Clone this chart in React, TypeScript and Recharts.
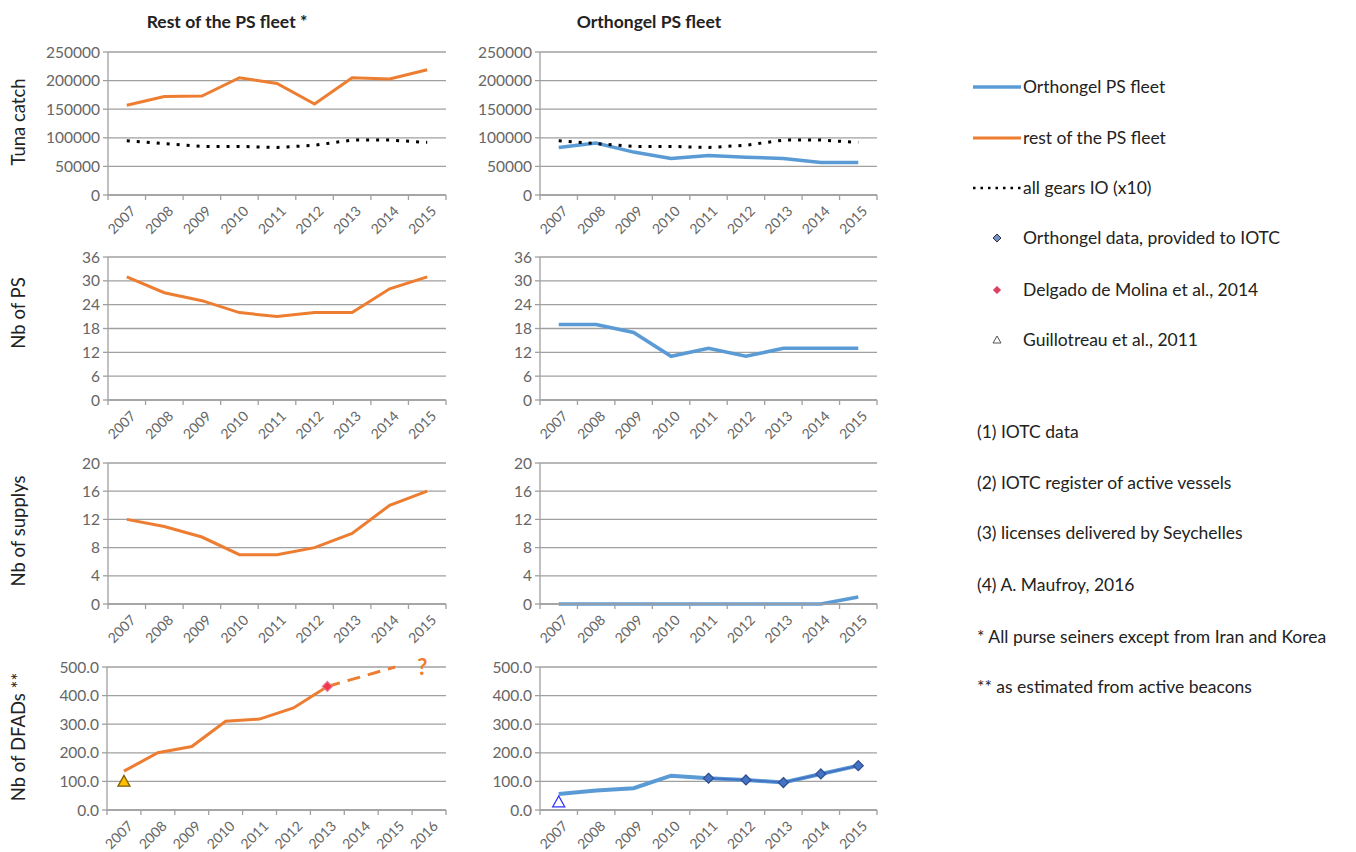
import React from 'react';
import { LineChart, Line, XAxis, YAxis, CartesianGrid, ReferenceDot } from 'recharts';

// ---------- data ----------
const years = [2007, 2008, 2009, 2010, 2011, 2012, 2013, 2014, 2015];
const yearsDfad = [2007, 2008, 2009, 2010, 2011, 2012, 2013, 2014, 2015, 2016];

const restCatch = [157000, 172000, 173000, 205000, 195000, 159000, 205000, 203000, 219000];
const allGears = [95000, 90000, 85000, 85000, 83000, 87000, 96000, 96000, 92000];
const orthCatch = [83000, 91000, 75000, 64000, 69000, 66000, 64000, 57000, 57000];

const restPS = [31, 27, 25, 22, 21, 22, 22, 28, 31];
const orthPS = [19, 19, 17, 11, 13, 11, 13, 13, 13];

const restSupply = [12, 11, 9.5, 7, 7, 8, 10, 14, 16];
const orthSupply = [0, 0, 0, 0, 0, 0, 0, 0, 1];

const restDfad = [136, 200, 222, 310, 318, 357, 432, null, null, null];
const restDfadProjection = [null, null, null, null, null, null, 432, null, 500, null];
const delgadoDfad = [null, null, null, null, null, null, 432, null, null, null];
const guillotreauRest = [100, null, null, null, null, null, null, null, null, null];

const orthDfad = [56, 68, 76, 120, 111, 105, 96, 126, 155];
const orthDataIotc = [null, null, null, null, 111, 105, 96, 126, 155];
const guillotreauOrth = [28, null, null, null, null, null, null, null, null];

const catchTicks = [0, 50000, 100000, 150000, 200000, 250000];
const psTicks = [0, 6, 12, 18, 24, 30, 36];
const supplyTicks = [0, 4, 8, 12, 16, 20];
const dfadTicks = [0, 100, 200, 300, 400, 500];

const legendItems = [
  'Orthongel PS fleet',
  'rest of the PS fleet',
  'all gears IO (x10)',
  'Orthongel data, provided to IOTC',
  'Delgado de Molina et al., 2014',
  'Guillotreau et al., 2011',
];
const notes = [
  '(1) IOTC data',
  '(2) IOTC register of active vessels',
  '(3) licenses delivered by Seychelles',
  '(4) A. Maufroy, 2016',
  '* All purse seiners except from Iran and Korea',
  '** as estimated from active beacons',
];

// ---------- tables ----------
const catchData = years.map((year, i) => ({ year, rest: restCatch[i], all: allGears[i], orth: orthCatch[i] }));
const psData = years.map((year, i) => ({ year, rest: restPS[i], orth: orthPS[i] }));
const supplyData = years.map((year, i) => ({ year, rest: restSupply[i], orth: orthSupply[i] }));
const dfadRestData = yearsDfad.map((year, i) => ({
  year,
  rest: restDfad[i],
  proj: restDfadProjection[i],
  delgado: delgadoDfad[i],
  guill: guillotreauRest[i],
}));
const dfadOrthData = years.map((year, i) => ({
  year,
  orth: orthDfad[i],
  iotc: orthDataIotc[i],
  guill: guillotreauOrth[i],
}));

// ---------- styles ----------
const FONT = 'Lato, "Liberation Sans", sans-serif';
const AXIS = '#A0A0A0';
const TICK_TEXT = '#666666';
const ORANGE = '#ED7D31';
const BLUE = '#5B9BD5';
const DARKBLUE = '#4472C4';

const makeXTick = (step: number) => (props: any) => {
  const { x, y, payload, index } = props;
  const ax = x + 10;
  const ay = y + 17;
  return (
    <g>
      <line x1={x + step / 2} x2={x + step / 2} y1={y} y2={y + 5} stroke={AXIS} strokeWidth={1.3} />
      {index === 0 ? (
        <line x1={x - step / 2} x2={x - step / 2} y1={y} y2={y + 5} stroke={AXIS} strokeWidth={1.3} />
      ) : null}
      <text
        x={ax}
        y={ay}
        transform={`rotate(-45 ${ax} ${ay})`}
        textAnchor="end"
        fontSize={14}
        fill={TICK_TEXT}
      >
        {payload.value}
      </text>
    </g>
  );
};

const diamond = (fill: string, stroke: string, s: number) => (props: any) => {
  const { cx, cy, index, value } = props;
  if (cx == null || cy == null || value == null) return <g key={`d${index}`} />;
  return (
    <path
      key={`d${index}`}
      d={`M${cx},${cy - s} L${cx + s},${cy} L${cx},${cy + s} L${cx - s},${cy} Z`}
      fill={fill}
      stroke={stroke}
      strokeWidth={1.2}
    />
  );
};

const triangle = (fill: string, stroke: string, s: number) => (props: any) => {
  const { cx, cy, index, value } = props;
  if (cx == null || cy == null || value == null) return <g key={`t${index}`} />;
  return (
    <path
      key={`t${index}`}
      d={`M${cx},${cy - s} L${cx + s},${cy + s * 0.8} L${cx - s},${cy + s * 0.8} Z`}
      fill={fill}
      stroke={stroke}
      strokeWidth={1.3}
    />
  );
};

type PanelProps = {
  left: number;
  plotLeft: number;
  plotRight: number;
  plotTop: number;
  plotBottom: number;
  data: any[];
  xTicks: number[];
  yTicks: number[];
  yFmt?: (v: number) => string;
  children: React.ReactNode;
};

function Panel({ left, plotLeft, plotRight, plotTop, plotBottom, data, xTicks, yTicks, yFmt, children }: PanelProps) {
  const yW = plotLeft - left;
  const width = plotRight - left + 14;
  const height = plotBottom - plotTop + 20 + 45;
  const step = (plotRight - plotLeft) / xTicks.length;
  return (
    <div style={{ position: 'absolute', left, top: plotTop - 20 }}>
      <LineChart width={width} height={height} data={data} margin={{ top: 20, right: 14, left: 0, bottom: 0 }}>
        <CartesianGrid vertical={false} stroke={AXIS} strokeWidth={1.3} />
        <XAxis
          dataKey="year"
          type="number"
          domain={[xTicks[0] - 0.5, xTicks[xTicks.length - 1] + 0.5]}
          ticks={xTicks}
          interval={0}
          height={45}
          tickSize={0}
          tickMargin={0}
          tickLine={false}
          axisLine={{ stroke: AXIS, strokeWidth: 1.3 }}
          tick={makeXTick(step)}
        />
        <YAxis
          width={yW}
          domain={[0, yTicks[yTicks.length - 1]]}
          ticks={yTicks}
          interval={0}
          tickSize={5}
          tickMargin={3}
          axisLine={{ stroke: AXIS, strokeWidth: 1.3 }}
          tickLine={{ stroke: AXIS, strokeWidth: 1.3 }}
          tick={{ fill: TICK_TEXT, fontSize: 15.5 }}
          tickFormatter={yFmt}
        />
        {children}
      </LineChart>
    </div>
  );
}

function SideLabel({ text, x, y }: { text: string; x: number; y: number }) {
  return (
    <div
      style={{
        position: 'absolute',
        left: x,
        top: y,
        transform: 'translate(-50%, -50%) rotate(-90deg)',
        whiteSpace: 'nowrap',
        fontSize: 18.5,
        color: '#222',
      }}
    >
      {text}
    </div>
  );
}

function Title({ text, x, y }: { text: string; x: number; y: number }) {
  return (
    <div
      style={{
        position: 'absolute',
        left: x,
        top: y,
        transform: 'translate(-50%, -50%)',
        whiteSpace: 'nowrap',
        fontSize: 17.5,
        fontWeight: 'bold',
        color: '#222',
      }}
    >
      {text}
    </div>
  );
}

const dfadFmt = (v: number) => v.toFixed(1);

export default function App() {
  const L = { left: 38, plotLeft: 108, plotRight: 446 };
  const R = { left: 470, plotLeft: 540, plotRight: 877 };
  const rows = [
    { plotTop: 52, plotBottom: 195 },
    { plotTop: 257, plotBottom: 400 },
    { plotTop: 463, plotBottom: 604 },
    { plotTop: 667, plotBottom: 810 },
  ];
  const legendY = [87, 138, 188, 238, 290, 340];
  const noteY = [432, 483, 533, 585, 637, 687];

  return (
    <div
      style={{
        position: 'absolute',
        left: 0,
        top: 0,
        width: 1356,
        height: 852,
        background: '#fff',
        fontFamily: FONT,
        overflow: 'hidden',
      }}
    >
      <Title text="Rest of the PS fleet *" x={227} y={21} />
      <Title text="Orthongel PS fleet" x={649} y={21} />

      <SideLabel text="Tuna catch" x={18} y={122} />
      <SideLabel text="Nb of PS" x={18} y={313} />
      <SideLabel text="Nb of supplys" x={18} y={531} />
      <SideLabel text="Nb of DFADs **" x={18} y={737} />

      {/* Row 1: tuna catch */}
      <Panel {...L} {...rows[0]} data={catchData} xTicks={years} yTicks={catchTicks}>
        <Line dataKey="all" stroke="#000" strokeWidth={3} strokeDasharray="3 7" dot={false} isAnimationActive={false} />
        <Line dataKey="rest" stroke={ORANGE} strokeWidth={3} dot={false} isAnimationActive={false} />
      </Panel>
      <Panel {...R} {...rows[0]} data={catchData} xTicks={years} yTicks={catchTicks}>
        <Line dataKey="orth" stroke={BLUE} strokeWidth={3.5} dot={false} isAnimationActive={false} />
        <Line dataKey="all" stroke="#000" strokeWidth={3} strokeDasharray="3 7" dot={false} isAnimationActive={false} />
      </Panel>

      {/* Row 2: Nb of PS */}
      <Panel {...L} {...rows[1]} data={psData} xTicks={years} yTicks={psTicks}>
        <Line dataKey="rest" stroke={ORANGE} strokeWidth={3} dot={false} isAnimationActive={false} />
      </Panel>
      <Panel {...R} {...rows[1]} data={psData} xTicks={years} yTicks={psTicks}>
        <Line dataKey="orth" stroke={BLUE} strokeWidth={3.5} dot={false} isAnimationActive={false} />
      </Panel>

      {/* Row 3: supplys */}
      <Panel {...L} {...rows[2]} data={supplyData} xTicks={years} yTicks={supplyTicks}>
        <Line dataKey="rest" stroke={ORANGE} strokeWidth={3} dot={false} isAnimationActive={false} />
      </Panel>
      <Panel {...R} {...rows[2]} data={supplyData} xTicks={years} yTicks={supplyTicks}>
        <Line dataKey="orth" stroke={BLUE} strokeWidth={3.5} dot={false} isAnimationActive={false} />
      </Panel>

      {/* Row 4: DFADs */}
      <Panel {...L} plotLeft={107} {...rows[3]} data={dfadRestData} xTicks={yearsDfad} yTicks={dfadTicks} yFmt={dfadFmt}>
        <Line dataKey="rest" stroke={ORANGE} strokeWidth={3} dot={false} isAnimationActive={false} />
        <Line
          dataKey="proj"
          stroke={ORANGE}
          strokeWidth={3}
          strokeDasharray="13 8"
          connectNulls
          dot={false}
          isAnimationActive={false}
        />
        <Line
          dataKey="delgado"
          stroke="none"
          dot={diamond('#F0384A', '#E87A9A', 5)}
          isAnimationActive={false}
        />
        <Line
          dataKey="guill"
          stroke="none"
          dot={triangle('#FFC000', '#7F6000', 6)}
          isAnimationActive={false}
        />
        <ReferenceDot
          x={2015.8}
          y={500}
          r={0}
          ifOverflow="visible"
          label={{ value: '?', fill: ORANGE, fontSize: 22, fontWeight: 'bold', position: 'center' }}
        />
      </Panel>
      <Panel {...R} {...rows[3]} data={dfadOrthData} xTicks={years} yTicks={dfadTicks} yFmt={dfadFmt}>
        <Line dataKey="orth" stroke={BLUE} strokeWidth={4} dot={false} isAnimationActive={false} />
        <Line
          dataKey="iotc"
          stroke={DARKBLUE}
          strokeWidth={2}
          dot={diamond(DARKBLUE, '#2F4F8F', 5)}
          isAnimationActive={false}
        />
        <Line
          dataKey="guill"
          stroke="none"
          dot={triangle('#FFFFFF', '#3030FF', 6)}
          isAnimationActive={false}
        />
      </Panel>

      {/* Legend and notes */}
      <svg style={{ position: 'absolute', left: 0, top: 0 }} width={1356} height={852}>
        <line x1={973} x2={1021} y1={legendY[0]} y2={legendY[0]} stroke={BLUE} strokeWidth={3.5} />
        <line x1={973} x2={1021} y1={legendY[1]} y2={legendY[1]} stroke={ORANGE} strokeWidth={3} />
        <line x1={973} x2={1021} y1={legendY[2]} y2={legendY[2]} stroke="#000" strokeWidth={2.5} strokeDasharray="2.5 5" />
        <path
          d={`M997,${legendY[3] - 4} L1001,${legendY[3]} L997,${legendY[3] + 4} L993,${legendY[3]} Z`}
          fill="#6F8FCF"
          stroke="#333"
          strokeWidth={1}
        />
        <path
          d={`M997,${legendY[4] - 4} L1001,${legendY[4]} L997,${legendY[4] + 4} L993,${legendY[4]} Z`}
          fill="#E04060"
          stroke="#E890A8"
          strokeWidth={1}
        />
        <path
          d={`M997,${legendY[5] - 4} L1001,${legendY[5] + 3} L993,${legendY[5] + 3} Z`}
          fill="#fff"
          stroke="#555"
          strokeWidth={1}
        />
        {legendItems.map((t, i) => (
          <text key={t} x={1023} y={legendY[i]} dy="0.35em" fontSize={17.5} fill="#222">
            {t}
          </text>
        ))}
        {notes.map((t, i) => (
          <text key={t} x={977} y={noteY[i]} dy="0.35em" fontSize={17.5} fill="#222">
            {t}
          </text>
        ))}
      </svg>
    </div>
  );
}
